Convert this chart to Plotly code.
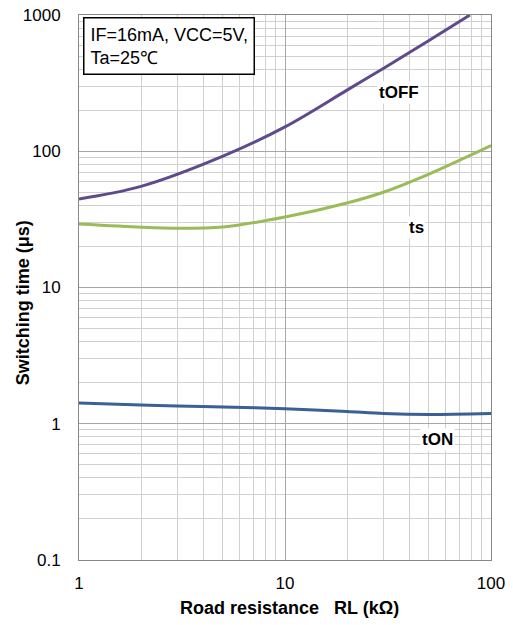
import plotly.graph_objects as go

rl = [1, 2, 5, 10, 20, 30, 50, 79]
t_off = [44.7, 55.2, 92, 151, 281, 405, 650, 1000]

rl_ts = [1, 2, 3, 5, 10, 20, 30, 50, 100]
ts = [29.2, 27.7, 27.2, 27.8, 32.9, 41.7, 50, 68, 110]

rl_on = [1, 2, 3, 5, 10, 20, 30, 50, 100]
t_on = [1.42, 1.37, 1.35, 1.33, 1.29, 1.23, 1.19, 1.17, 1.19]

yticks = [0.1, 1, 10, 100, 1000]
ytext = ["0.1", "1", "10", "100", "1000"]
xticks = [1, 10, 100]
xtext = ["1", "10", "100"]

fig = go.Figure()
fig.add_trace(go.Scatter(x=rl, y=t_off, mode="lines", line=dict(color="#5f4a8b", width=3, shape="spline", smoothing=1.0), showlegend=False))
fig.add_trace(go.Scatter(x=rl_ts, y=ts, mode="lines", line=dict(color="#9bbb59", width=3, shape="spline", smoothing=0.8), showlegend=False))
fig.add_trace(go.Scatter(x=rl_on, y=t_on, mode="lines", line=dict(color="#3a6096", width=3, shape="spline", smoothing=0.8), showlegend=False))

font = "Liberation Sans, Arial, sans-serif"
lab = dict(family=font, size=17, color="black")
fig.add_annotation(x=1.553, y=2.43, xref="x", yref="y", text="<b>tOFF</b>", showarrow=False,
                   font=lab, bgcolor="white")
fig.add_annotation(x=1.636, y=1.437, xref="x", yref="y", text="<b>ts</b>", showarrow=False,
                   font=lab, bgcolor="white")
fig.add_annotation(x=1.738, y=-0.112, xref="x", yref="y", text="<b>tON</b>", showarrow=False,
                   font=lab, bgcolor="white")
fig.add_annotation(x=0.01, y=0.996, xref="x domain", yref="y domain", xanchor="left", yanchor="top",
                   text="IF=16mA, VCC=5V,<br>Ta=25℃", align="left", showarrow=False,
                   font=dict(family=font, size=18, color="black"), bgcolor="white",
                   bordercolor="black", borderwidth=1.5, borderpad=6)
# axis titles
fig.add_annotation(x=0.512, y=-0.088, xref="paper", yref="paper", xanchor="center", yanchor="middle",
                   text="<b>Road resistance   RL (kΩ)</b>",
                   showarrow=False, font=dict(family=font, size=18, color="black"))
fig.add_annotation(x=-0.136, y=0.473, xref="paper", yref="paper", xanchor="center", yanchor="middle",
                   text="<b>Switching time (μs)</b>",
                   showarrow=False, textangle=-90, font=dict(family=font, size=18, color="black"))

fig.update_layout(
    width=513, height=625,
    margin=dict(l=79, r=22, t=15, b=65),
    paper_bgcolor="white", plot_bgcolor="white",
    font=dict(family=font, size=17, color="black"),
)
fig.update_xaxes(type="log", range=[0, 2], tickvals=xticks, ticktext=xtext, automargin=False,
                 showgrid=True, gridcolor="#a6a6a6", gridwidth=1,
                 minor=dict(dtick="D1", showgrid=True, gridcolor="#d0d0d0", gridwidth=1, ticks=""),
                 showline=True, linecolor="#888888", linewidth=1, mirror=True,
                 ticks="", ticklabelstandoff=8, zeroline=False)
fig.update_yaxes(type="log", range=[-1, 3], tickvals=yticks, ticktext=ytext, automargin=False,
                 showgrid=True, gridcolor="#a6a6a6", gridwidth=1,
                 minor=dict(dtick="D1", showgrid=True, gridcolor="#d0d0d0", gridwidth=1, ticks=""),
                 showline=True, linecolor="#888888", linewidth=1, mirror=True,
                 ticks="", ticklabelstandoff=14, zeroline=False)

fig.write_html("out.html")
